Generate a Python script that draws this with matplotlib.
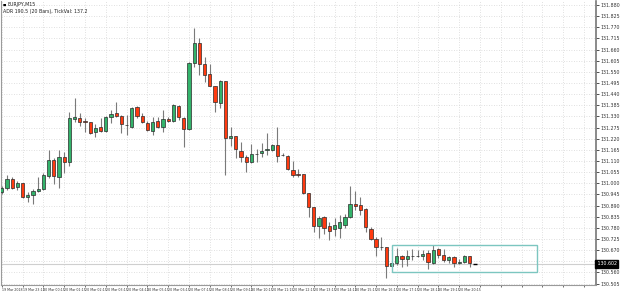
import matplotlib
matplotlib.use("Agg")
import matplotlib.pyplot as plt
from matplotlib.patches import Rectangle
import numpy as np

symbol = "EURJPY,M15"
info = "ADR 190.5 (20 Bars), TickVal: 137.2"

# 15-minute candles, 19 Mar 22:15 onward
opens = [130.959, 130.978, 131.023, 130.983, 131.003, 130.934, 130.944, 130.964, 130.974, 131.038,
         131.117, 131.033, 131.131, 131.107, 131.319, 131.323, 131.309, 131.304, 131.254, 131.279,
         131.259, 131.328, 131.348, 131.333, 131.289, 131.279, 131.378, 131.333, 131.299, 131.259,
         131.309, 131.279, 131.319, 131.309, 131.383, 131.323, 131.269, 131.595, 131.693, 131.590,
         131.540, 131.481, 131.397, 131.506, 131.225, 131.235, 131.161, 131.131, 131.107, 131.146,
         131.151, 131.166, 131.166, 131.190, 131.141, 131.136, 131.067, 131.048, 131.048, 130.954,
         130.885, 130.791, 130.836, 130.791, 130.772, 130.781, 130.796, 130.836, 130.900, 130.895,
         130.875, 130.772, 130.727, 130.688, 130.688, 130.594, 130.609, 130.639, 130.624, 130.643,
         130.639, 130.639, 130.658, 130.609, 130.678, 130.648, 130.619, 130.634, 130.609, 130.614,
         130.639, 130.602]
highs = [130.988, 131.043, 131.033, 131.013, 131.003, 130.959, 130.974, 131.033, 131.052, 131.166,
         131.126, 131.166, 131.156, 131.353, 131.422, 131.348, 131.323, 131.304, 131.294, 131.323,
         131.333, 131.363, 131.402, 131.338, 131.338, 131.378, 131.383, 131.348, 131.309, 131.328,
         131.328, 131.363, 131.328, 131.392, 131.388, 131.328, 131.599, 131.767, 131.718, 131.624,
         131.590, 131.481, 131.511, 131.506, 131.279, 131.235, 131.205, 131.141, 131.195, 131.171,
         131.200, 131.250, 131.195, 131.279, 131.151, 131.141, 131.112, 131.072, 131.048, 130.954,
         130.885, 130.841, 130.841, 130.811, 130.831, 130.845, 130.850, 130.988, 130.964, 130.934,
         130.880, 130.786, 130.737, 130.737, 130.688, 130.614, 130.683, 130.648, 130.673, 130.678,
         130.673, 130.673, 130.673, 130.693, 130.683, 130.678, 130.643, 130.639, 130.624, 130.648,
         130.639, 130.602]
lows = [130.949, 130.969, 130.974, 130.969, 130.929, 130.910, 130.900, 130.959, 130.969, 131.028,
        130.998, 130.978, 131.052, 131.087, 131.304, 131.284, 131.254, 131.245, 131.230, 131.254,
        131.254, 131.299, 131.328, 131.250, 131.240, 131.274, 131.323, 131.299, 131.259, 131.240,
        131.274, 131.254, 131.304, 131.304, 131.314, 131.181, 131.264, 131.575, 131.535, 131.501,
        131.481, 131.353, 131.373, 131.043, 131.186, 131.126, 131.107, 131.057, 131.102, 131.107,
        131.131, 131.141, 131.161, 131.107, 131.136, 131.067, 131.033, 131.033, 130.949, 130.836,
        130.762, 130.732, 130.752, 130.722, 130.742, 130.732, 130.781, 130.831, 130.870, 130.845,
        130.762, 130.722, 130.639, 130.673, 130.535, 130.589, 130.599, 130.589, 130.594, 130.619,
        130.634, 130.619, 130.579, 130.604, 130.629, 130.614, 130.609, 130.589, 130.604, 130.609,
        130.589, 130.602]
closes = [130.978, 131.023, 130.978, 131.003, 130.934, 130.944, 130.964, 130.974, 131.043, 131.117,
          131.038, 131.131, 131.107, 131.323, 131.328, 131.304, 131.304, 131.250, 131.274, 131.259,
          131.328, 131.343, 131.333, 131.294, 131.287, 131.373, 131.333, 131.304, 131.264, 131.304,
          131.279, 131.319, 131.309, 131.388, 131.328, 131.269, 131.595, 131.693, 131.590, 131.535,
          131.481, 131.402, 131.506, 131.225, 131.235, 131.171, 131.131, 131.107, 131.146, 131.144,
          131.161, 131.171, 131.190, 131.136, 131.139, 131.072, 131.043, 131.043, 130.954, 130.885,
          130.791, 130.831, 130.781, 130.767, 130.796, 130.811, 130.836, 130.900, 130.890, 130.870,
          130.786, 130.727, 130.688, 130.686, 130.594, 130.609, 130.639, 130.624, 130.643, 130.639,
          130.643, 130.653, 130.614, 130.673, 130.648, 130.619, 130.634, 130.609, 130.614, 130.639,
          130.609, 130.602]

time_labels = ["19 Mar 2018", "19 Mar 23:15", "20 Mar 00:15", "20 Mar 01:15", "20 Mar 02:15",
               "20 Mar 03:15", "20 Mar 04:15", "20 Mar 05:15", "20 Mar 06:15", "20 Mar 07:15",
               "20 Mar 08:15", "20 Mar 09:15", "20 Mar 10:15", "20 Mar 11:15", "20 Mar 12:15",
               "20 Mar 13:15", "20 Mar 14:15", "20 Mar 15:15", "20 Mar 16:15", "20 Mar 17:15",
               "20 Mar 18:15", "20 Mar 19:15", "20 Mar 20:15"]

# consolidation box (bar index range, price range)
box_start, box_end = 75, 103
box_low, box_high = 130.560, 130.693

price_ticks = np.round(130.505 + 0.055 * np.arange(26), 3)

up_col = "#33b36b"
dn_col = "#ff3a10"
small_font = ["Liberation Sans Narrow", "DejaVu Sans"]

fig = plt.figure(figsize=(6.25, 2.92), dpi=100)
ax = fig.add_axes([1 / 625, 7 / 292, 595 / 625, 284 / 292])

o = np.array(opens)
c = np.array(closes)
h = np.array(highs)
l = np.array(lows)
x = np.arange(len(o))

ax.vlines(x, l, h, color="#7a7a7a", linewidth=0.8, zorder=2)
body_lo = np.minimum(o, c)
body_h = np.maximum(np.abs(c - o), 0.0006)
cols = np.where(c > o, up_col, dn_col)
ax.bar(x[:-1], body_h[:-1], bottom=body_lo[:-1], width=0.62, color=cols[:-1],
       edgecolor="#2b2b2b", linewidth=0.5, zorder=3)
# current (forming) bar
ax.hlines(c[-1], x[-1] - 0.4, x[-1] + 0.4, color="black", linewidth=1.0, zorder=3)

# current price line + label
ax.axhline(c[-1], color="#cfcfcf", linewidth=0.8, zorder=1)
ax.text(1.0, c[-1], " %.3f" % c[-1], transform=ax.get_yaxis_transform(), fontsize=3.4,
        color="white", va="center", ha="left", family=small_font,
        bbox=dict(boxstyle="square,pad=0.3", fc="black", ec="black"), clip_on=False)

ax.add_patch(Rectangle((box_start, box_low), box_end - box_start, box_high - box_low,
                       fill=False, edgecolor="#7cc6c0", linewidth=1.0, zorder=4))

ax.set_xlim(-0.15, 114.3)
ax.set_ylim(130.498, 131.900)

xt = np.arange(0, 113, 4)
ax.set_xticks(xt)
ax.set_xticklabels([time_labels[i] if i < len(time_labels) else "" for i in range(len(xt))],
                   family=small_font)
for lab in ax.get_xticklabels():
    lab.set_horizontalalignment("left")
ax.tick_params(axis="x", labelsize=2.3, length=1.5, pad=0.5, colors="#333333", width=0.5)

ax.yaxis.tick_right()
ax.set_yticks(price_ticks)
ax.set_yticklabels(["" if abs(v - c[-1]) < 0.03 else "%.3f" % v for v in price_ticks],
                   family=small_font)
ax.tick_params(axis="y", labelsize=3.4, length=2, pad=1.5, colors="#333333", width=0.6)

ax.grid(True, color="#d6d6d6", linestyle=(0, (1, 2)), linewidth=0.6, zorder=0)
ax.set_axisbelow(True)

ax.spines["top"].set_visible(False)
ax.spines["left"].set_color("#9a9a9a")
ax.spines["right"].set_color("#777777")
ax.spines["right"].set_linewidth(1.2)
ax.spines["bottom"].set_color("#9a9a9a")

fig.text(3 / 625, 1 - 4.5 / 292, "\u25a0", fontsize=2.5, color="black", va="center")
fig.text(8 / 625, 1 - 4.5 / 292, symbol, fontsize=3.4, color="#222222", va="center",
         family=small_font)
fig.text(3 / 625, 1 - 11.5 / 292, info, fontsize=3.4, color="#222222", va="center",
         family=small_font)

fig.savefig("out.png", dpi=100)
